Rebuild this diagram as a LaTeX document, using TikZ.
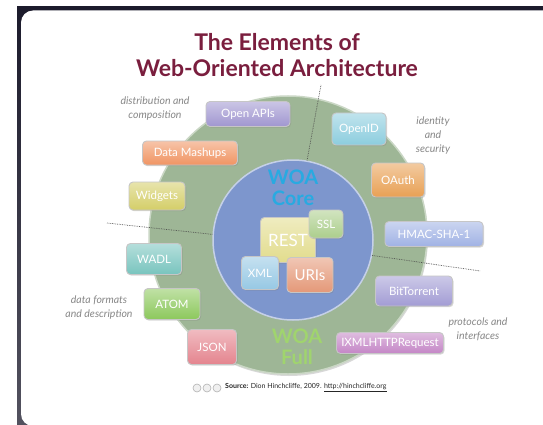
\documentclass[tikz,border=0pt]{standalone}
\usepackage{fontspec}
\setmainfont{Lato}
\usetikzlibrary{shadows}

\definecolor{framedark}{RGB}{28,27,44}
\definecolor{titlered}{RGB}{122,30,62}
\definecolor{sage}{RGB}{158,182,150}
\definecolor{coreblue}{RGB}{125,150,205}
\definecolor{corecyan}{RGB}{40,170,225}
\definecolor{fullgreen}{RGB}{160,212,110}
\definecolor{catgray}{RGB}{135,135,135}
% tile colours
\definecolor{cOpenAPI}{RGB}{160,150,208}
\definecolor{cMashup}{RGB}{240,148,98}
\definecolor{cWidget}{RGB}{212,206,104}
\definecolor{cOpenID}{RGB}{140,205,222}
\definecolor{cOAuth}{RGB}{232,160,84}
\definecolor{cHMAC}{RGB}{160,178,228}
\definecolor{cWADL}{RGB}{120,196,190}
\definecolor{cATOM}{RGB}{140,200,92}
\definecolor{cJSON}{RGB}{228,132,142}
\definecolor{cTorrent}{RGB}{162,156,212}
\definecolor{cXHR}{RGB}{196,134,198}
\definecolor{cREST}{RGB}{226,220,140}
\definecolor{cSSL}{RGB}{172,206,140}
\definecolor{cXML}{RGB}{150,200,228}
\definecolor{cURI}{RGB}{228,152,120}

\tikzset{
  tile/.style={draw=gray!45, line width=0.9pt, rounded corners=4pt,
    top color=#1!55!white, bottom color=#1, text=white,
    font=\fontsize{11.5}{13}\selectfont, inner sep=2pt,
    drop shadow={opacity=0.3, shadow xshift=1pt, shadow yshift=-1.2pt}},
  cattext/.style={text=catgray, font=\itshape\fontsize{10.5}{14}\selectfont, align=center},
  woatext/.style={font=\bfseries\fontsize{20}{21}\selectfont, align=center},
  divline/.style={gray!60!black, line width=0.7pt, densely dotted},
}

\begin{document}
\begin{tikzpicture}[x=1pt, y=-1pt]
\useasboundingbox (0,0) rectangle (543,425);
\clip (0,0) rectangle (543,425);
\fill[white] (0,0) rectangle (543,425);

% slide frame
\fill[top color=framedark, bottom color=framedark!75!white] (17,7) rectangle (560,440);
\fill[white, rounded corners=12pt] (21,10.5) rectangle (570,426);

% title
\node[text=titlered, font=\bfseries\fontsize{23}{26}\selectfont, align=center]
  (title) at (277,55) {The Elements of\\Web-Oriented Architecture};

% rings
\node[circle, minimum size=278pt, fill=sage, draw=sage!55!white, line width=1.5pt,
  drop shadow={opacity=0.3, shadow xshift=1pt, shadow yshift=-2pt}] (full) at (288,235) {};
\node[circle, minimum size=160pt, fill=coreblue, draw=coreblue!45!white, line width=1.5pt] (core) at (293,240) {};

% dividers
\coordinate (cutT) at (321,85);
\coordinate (cutL) at (107,223);
\coordinate (cutR) at (480,271);
\draw[divline] (core.80) -- (cutT);
\draw[divline] (core.176) -- (cutL);
\draw[divline] (core.-11) -- (cutR);

% ring labels
\node[woatext, text=corecyan] (corelabel) at (293,188) {WOA\\Core};
\node[woatext, text=fullgreen] (fulllabel) at (297,347) {WOA\\Full};

% core tiles
\node[tile=cREST, minimum width=55pt, minimum height=45pt, font=\fontsize{17}{18}\selectfont] (rest) at (288,240) {REST};
\node[tile=cSSL, minimum width=34pt, minimum height=28pt, font=\fontsize{11.5}{12}\selectfont] (ssl) at (326,224) {SSL};
\node[tile=cXML, minimum width=37pt, minimum height=33pt, font=\fontsize{11.5}{12}\selectfont] (xml) at (260,273) {XML};
\node[tile=cURI, minimum width=46pt, minimum height=35pt, font=\fontsize{15}{16}\selectfont] (uris) at (310,275) {URIs};

% outer tiles
\node[tile=cOpenAPI, minimum width=84pt, minimum height=25pt] (openapi) at (248,114) {Open APIs};
\node[tile=cMashup, minimum width=95pt, minimum height=24pt] (mashup) at (190,153) {Data Mashups};
\node[tile=cWidget, minimum width=56pt, minimum height=28pt] (widget) at (157,196) {Widgets};
\node[tile=cOpenID, minimum width=54pt, minimum height=32pt] (openid) at (359,129) {OpenID};
\node[tile=cOAuth, minimum width=53pt, minimum height=34pt] (oauth) at (398,180) {OAuth};
\node[tile=cHMAC, minimum width=98pt, minimum height=25pt] (hmac) at (434,234) {HMAC-SHA-1};
\node[tile=cWADL, minimum width=55pt, minimum height=31pt] (wadl) at (154,259) {WADL};
\node[tile=cATOM, minimum width=56pt, minimum height=31pt] (atom) at (172,304) {ATOM};
\node[tile=cJSON, minimum width=49pt, minimum height=35pt] (json) at (212,347) {JSON};
\node[tile=cTorrent, minimum width=77pt, minimum height=30pt] (torrent) at (414,291) {BitTorrent};
\node[tile=cXHR, minimum width=107pt, minimum height=21pt] (xhr) at (390,343) {IXMLHTTPRequest};

% group captions
\node[cattext] (catdist) at (155,109) {distribution and\\composition};
\node[cattext] (catid) at (433,136) {identity\\and\\security};
\node[cattext] (catdata) at (99,308) {data formats\\and description};
\node[cattext] (catproto) at (478,329) {protocols and\\interfaces};

% source line
\foreach \i/\cx in {1/197,2/207,3/217}
  \node[circle, draw=gray!60, fill=gray!12, line width=0.6pt, minimum size=8pt, inner sep=0pt] (cc\i) at (\cx,388) {};
\node[anchor=west, text=gray!30!black, font=\fontsize{7}{8}\selectfont, inner sep=0pt]
  (source) at (225,388) {\textbf{Source:} Dion Hinchcliffe, 2009. \underline{http://hinchcliffe.org}};
\end{tikzpicture}
\end{document}
